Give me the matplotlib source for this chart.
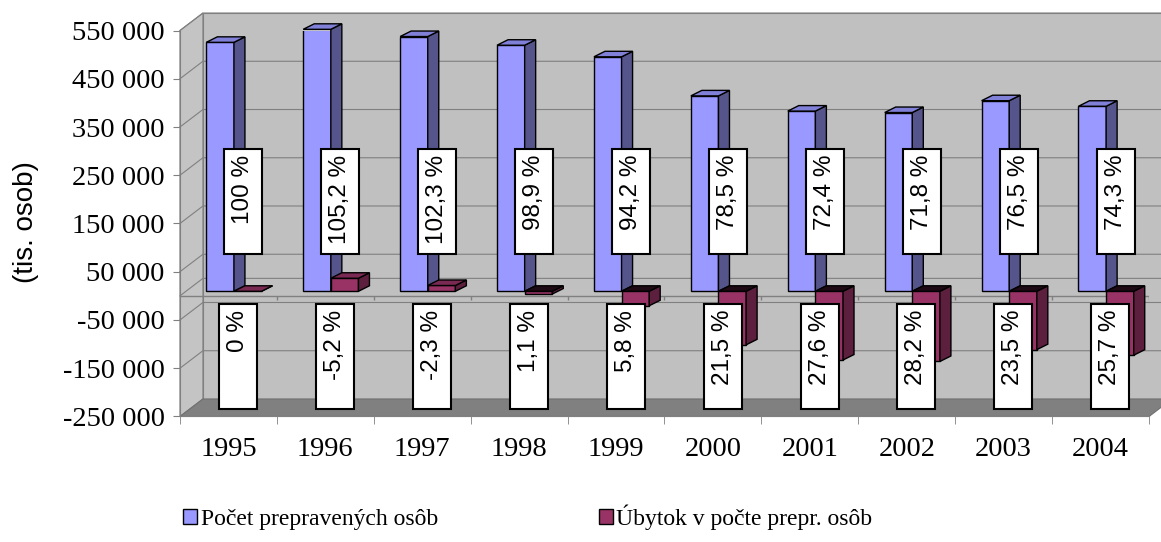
import numpy as np
import matplotlib
matplotlib.use("Agg")
import matplotlib.pyplot as plt
from matplotlib.patches import Polygon, Rectangle, Patch
from matplotlib.ticker import FuncFormatter

years = ['1995', '1996', '1997', '1998', '1999', '2000', '2001', '2002', '2003', '2004']
prepravene = [516000, 543000, 528000, 510000, 486000, 405000, 373500, 370500, 395000, 383500]
ubytok = [0, 27000, 12000, -5700, -30000, -111000, -142500, -145500, -121000, -132500]
pct_prepravene = ['100 %', '105,2 %', '102,3 %', '98,9 %', '94,2 %',
                  '78,5 %', '72,4 %', '71,8 %', '76,5 %', '74,3 %']
pct_ubytok = ['0 %', '-5,2 %', '-2,3 %', '1,1 %', '5,8 %',
              '21,5 %', '27,6 %', '28,2 %', '23,5 %', '25,7 %']
legend_labels = ['Počet prepravených osôb', 'Úbytok v počte prepr. osôb']
yticks = list(range(-250000, 550001, 100000))

plt.rcParams['font.family'] = 'Liberation Serif'
SANS = 'Liberation Sans'

fig = plt.figure(figsize=(11.61, 5.42), dpi=100)
ax = fig.add_axes([0.155, 0.2316, 0.8347, 0.7121])
ax.set_facecolor('none')
x = np.arange(len(years))
ax.set_xlim(-0.5, 9.5)
ax.set_ylim(yticks[0], yticks[-1])

# fake 3d: wall depth, bar depth, offset of bar front plane
DX, DY = 0.237, 36250
BDX, BDY = 0.1135, 11400
BX, BY = 0.062, 9500
W = 0.285
lo, hi = yticks[0], yticks[-1]

ax.add_patch(Rectangle((-0.5 + DX, lo + DY), 10, hi - lo, fc='#c0c0c0', ec='#808080',
                       lw=0.8, clip_on=False, zorder=0.5))
ax.add_patch(Polygon([(-0.5, lo), (-0.5 + DX, lo + DY), (-0.5 + DX, hi + DY), (-0.5, hi)],
                     fc='#c4c4c4', ec='#808080', lw=0.8, clip_on=False, zorder=0.5))
ax.add_patch(Polygon([(-0.5, lo), (9.5, lo), (9.5 + DX, lo + DY), (-0.5 + DX, lo + DY)],
                     fc='#808080', ec='#707070', lw=0.8, clip_on=False, zorder=0.6))
for t in yticks[1:] + [0]:
    ax.plot([-0.5, -0.5 + DX, 9.5 + DX], [t, t + DY, t + DY], color='#808080', lw=0.8,
            clip_on=False, zorder=0.7)

# zero axis at the front
ax.plot([-0.5, 9.5], [0, 0], color='#808080', lw=1, zorder=0.8)
ax.vlines(np.arange(0.5, 10, 1), -9000, 0, color='#808080', lw=1, zorder=0.8)


def bar3d(x0, v, front, side, top, z):
    x0 = x0 + BX
    x1 = x0 + W
    y0, y1 = min(BY, v + BY), max(BY, v + BY)
    ax.bar(x0, y1 - y0, width=W, bottom=y0, align='edge', color=front,
           edgecolor='black', lw=1, zorder=z)
    ax.add_patch(Polygon([(x1, y0), (x1 + BDX, y0 + BDY), (x1 + BDX, y1 + BDY), (x1, y1)],
                         fc=side, ec='black', lw=1, zorder=z, clip_on=False))
    ax.add_patch(Polygon([(x0, y1), (x1, y1), (x1 + BDX, y1 + BDY), (x0 + BDX, y1 + BDY)],
                         fc=top, ec='black', lw=1, zorder=z, clip_on=False))


for i in range(len(years)):
    bar3d(x[i] - 0.29, prepravene[i], '#9999ff', '#55558c', '#8080d8', 3 + i * 0.01)
    top_m = '#7a2952' if ubytok[i] >= 0 else '#1e0a14'
    bar3d(x[i] - 0.005, ubytok[i], '#993366', '#5c1f3d', top_m, 3.5 + i * 0.01)

# value labels in white boxes
bw, bh = 0.392, 217500


def label_box(cx, cy, txt):
    ax.add_patch(Rectangle((cx - bw / 2, cy - bh / 2), bw, bh, fc='white', ec='black',
                           lw=1.5, zorder=6, clip_on=False))
    ax.annotate(txt, (cx, cy + bh / 2), xytext=(0, -4), textcoords='offset points',
                rotation=90, ha='center', va='top', fontsize=17.5, family=SANS, zorder=7)


for i in range(len(years)):
    label_box(x[i] + 0.155, 195000, pct_prepravene[i])
    label_box(x[i] + 0.10, -126500, pct_ubytok[i])

ax.set_yticks(yticks)
ax.yaxis.set_major_formatter(FuncFormatter(lambda v, p: f"{int(v):,}".replace(',', ' ')))
ax.tick_params(axis='y', length=5, color='#808080', labelsize=20.5, pad=6)
ax.set_xticks(x, years)
ax.set_xticks(np.arange(-0.5, 10, 1), minor=True)
ax.tick_params(axis='x', which='major', length=0, pad=15, labelsize=20.5)
ax.tick_params(axis='x', which='minor', length=6, color='#808080')
for s in ['top', 'right']:
    ax.spines[s].set_visible(False)
ax.spines['left'].set_color('#808080')
ax.spines['bottom'].set_color('#808080')

fig.text(26 / 1161, 1 - 222 / 542, '(tis. osob)', rotation=90, fontsize=20, family=SANS,
         ha='center', va='center')

handles = [Patch(fc='#9999ff', ec='black'), Patch(fc='#993366', ec='black')]
fig.legend(handles, legend_labels, loc='center left', bbox_to_anchor=(183 / 1161, 1 - 517 / 542),
           ncol=2, frameon=False, fontsize=17, handlelength=0.6, handleheight=0.6,
           handletextpad=0.15, columnspacing=6.8, borderpad=0, borderaxespad=0)

fig.savefig('out.png', dpi=100)
